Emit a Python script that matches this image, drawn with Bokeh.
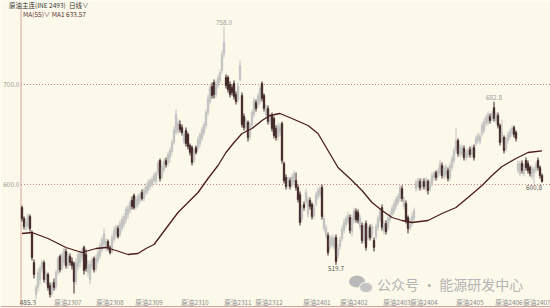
from bokeh.plotting import figure
from bokeh.models import Range1d, ColumnDataSource
from bokeh.embed import file_html
from bokeh.resources import INLINE
from bokeh.core.properties import value

# ---------------- data ----------------
opens = [577,566,558,558,568,552,522,490,497,505,516,522,505,510,499,491,502,498,512,528,
         516,522,533,519,528,523,521,503,518,522,528,537,530,512,505,518,526,516,524,529,
         535,540,536,543,537,533,545,550,556,550,556,560,565,570,574,584,589,578,580,584,
         592,586,592,594,598,600,604,603,612,624,608,615,624,622,627,633,642,652,654,660,
         657,643,654,650,639,637,624,637,636,641,646,652,659,672,683,698,702,690,699,704,
         714,731,707,707,700,697,701,690,685,705,689,668,657,662,648,660,670,682,680,683,
         701,689,670,676,663,669,666,656,648,652,661,621,607,599,604,600,603,604,597,590,
         566,580,583,570,584,580,569,581,588,590,597,556,549,549,538,540,538,547,529,538,
         546,554,560,563,567,553,564,573,572,558,559,544,561,548,557,549,544,548,557,565,
         577,553,561,557,565,570,573,578,582,586,596,578,581,567,557,561,566,596,598,603,
         598,603,596,603,596,601,607,612,609,612,619,608,610,614,607,617,624,634,644,630,
         631,636,627,629,635,630,637,641,644,643,651,654,661,662,668,666,677,664,669,659,
         645,647,636,644,648,651,657,652,614,611,621,611,624,621,617,608,611,615,624,617,
         609]
highs = [579,568,566,571,570,554,525,500,516,519,525,524,514,512,502,503,506,515,528,530,
         532,537,536,532,531,527,523,526,532,534,537,539,535,524,524,527,528,530,535,542,
         548,556,546,545,539,550,558,560,559,564,568,571,578,580,585,588,591,588,591,593,
         595,597,601,605,606,608,612,613,624,626,620,626,627,633,637,645,658,675,666,664,
         660,653,657,652,641,639,635,639,648,652,658,663,675,690,700,702,705,704,710,715,
         734,758,710,709,703,700,704,693,702,724,692,671,666,664,663,675,687,685,692,699,
         703,691,680,679,671,672,668,659,662,661,663,623,610,608,607,611,614,612,600,593,
         579,583,596,588,587,582,580,593,597,599,600,569,560,552,549,550,549,550,540,548,
         559,566,569,573,570,570,577,576,575,570,562,561,564,559,560,561,547,561,569,576,
         580,564,564,569,573,579,584,588,591,600,599,588,584,569,566,572,577,605,607,606,
         606,606,607,605,605,612,614,614,617,625,622,619,620,617,622,629,637,656,646,640,
         640,639,635,637,638,639,640,649,652,651,662,666,670,673,671,674,682.8,673,672,661,
         665,649,648,653,656,659,659,654,624,624,624,621,627,624,619,619,618,623,627,619,
         611]
lows = [563,555,554,555,553,524,506,485.3,493,500,512,502,500,494,487,488,494,495,509,512,
        514,519,516,516,519,515,491,500,514,517,524,510,513,508,500,514,512,513,521,526,
        532,536,533,534,530,531,542,546,546,548,553,557,561,566,571,575,575,575,577,581,
        584,583,589,591,595,597,601,600,609,603,605,612,617,618,622,630,640,650,650,652,
        649,640,638,635,629,619,621,630,633,638,643,649,656,669,680,686,686,687,696,701,
        711,727,696,692,687,689,685,680,682,703,657,654,654,643,645,657,667,673,677,680,
        683,673,667,660,660,653,646,644,644,648,621,601,595,596,595,597,599,594,582,559,
        563,574,580,567,575,565,566,578,585,587,565,553,546,529,535,537,535,519.7,526,535,
        543,551,557,560,551,548,561,562,561,555,541,541,534,545,544,546,533,545,554,562,
        554,550,550,554,562,567,570,575,579,583,583,575,561,551,554,558,563,593,595,594,
        595,595,592,590,593,598,604,604,606,609,606,605,607,603,604,614,621,631,628,627,
        628,624,624,626,627,627,624,638,641,640,648,651,658,659,661,663,663,661,656,639,
        642,631,633,641,645,648,647,643,611,608,611,608,614,611,608,605,600.8,612,614,606,
        602]
closes = [566,558,562,569,556,527,510,497,512,516,522,505,510,497,490,500,497,512,526,515,
          530,535,519,529,522,519,503,522,530,532,534,514,516,520,520,524,515,526,532,539,
          545,551,543,537,532,547,554,557,548,561,565,568,575,577,582,578,577,585,588,590,
          586,594,598,602,604,605,609,611,621,606,617,623,620,630,634,642,655,670,662,655,
          652,650,641,638,632,622,632,632,645,650,655,660,672,686,697,689,690,700,707,712,
          730,742,699,695,690,692,688,683,698,719,660,657,663,647,660,672,684,676,689,696,
          686,676,677,663,668,656,649,647,659,657,624,604,598,605,598,608,611,597,585,562,
          576,577,592,585,578,568,577,590,594,596,568,566,557,532,546,547,546,523,536,545,
          556,562,566,569,554,566,574,565,564,567,544,558,537,556,547,558,537,558,566,573,
          557,561,553,566,570,576,581,585,588,597,586,585,564,556,562,568,574,602,604,597,
          603,598,604,594,602,609,611,607,614,621,609,616,617,606,619,626,634,644,631,637,
          637,627,632,634,630,636,627,646,649,648,659,663,667,670,664,671,666,670,659,642,
          652,634,645,650,653,656,650,646,621,621,614,618,617,614,611,616,615,620,617,609,
          603]

# MA(55) read at selected candles
ma_idx = [0,5,13,22,30,37,42,47,53,58,62,66,72,78,83,88,93,98,102,106,110,115,120,124,129,
          135,143,148,153,158,165,170,175,180,185,190,195,203,210,217,223,230,235,240,247,253,260]
ma_val = [551,552,546,537,532,536,537,534,530,531,536,540,556,572,582,592,606,619,632,642,651,
          656,664,669,671,666,659,651,634,617,604,594,582,574,567,564,562,564,571,577,587,599,
          609,618,626,632,633.57]

# contract labels on the time axis (centre position in candle index)
month_labels = ["原油2307","原油2308","原油2309","原油2310","原油2311","原油2312","原油2401",
                "原油2402","原油2403","原油2404","原油2405","原油2406","原油2407"]
month_pos = [23, 44, 63.5, 86.5, 108, 123.5, 147.5, 166, 187.5, 201, 224, 243.5, 257.5]

y_ticks = [600, 700]

# annotated extremes (candle index, kind)
mark_idx = [7, 101, 157, 236, 256]
mark_kind = ["low", "high", "low", "high", "low"]

# ---------------- styles ----------------
BG = "#fdf9ea"
UP = "#c0c0c0"
DOWN = "#3b2323"
MA_C = "#4a1c1c"
AXIS_C = "#d6a39b"
GRID_C = "#c28383"
FONT = "Noto Sans CJK SC"
PANEL_TOP = 776
PANEL_BOTTOM = 478
X0, X1 = -10.75, 264.25
PANEL_LEFT = -0.5

n = len(closes)
idx = list(range(n))
colors = [UP if c >= o else DOWN for o, c in zip(opens, closes)]
tops = [max(o, c) for o, c in zip(opens, closes)]
bots = [min(o, c) for o, c in zip(opens, closes)]
src = ColumnDataSource(dict(i=idx, h=highs, l=lows, top=tops, bottom=bots, color=colors))

p = figure(width=550, height=308, output_backend="svg", toolbar_location=None,
           x_range=Range1d(X0, X1), y_range=Range1d(476, 784),
           min_border_left=0, min_border_right=0, min_border_top=0, min_border_bottom=0,
           background_fill_color=BG, border_fill_color=BG, outline_line_color=None)

p.xaxis.visible = False
p.yaxis.visible = False
p.xgrid.visible = False
p.ygrid.visible = False

# price scale: dotted reference lines and their labels
p.segment(x0=[PANEL_LEFT] * len(y_ticks), y0=y_ticks, x1=[X1] * len(y_ticks), y1=y_ticks,
          line_color=GRID_C, line_dash="1 2", line_width=1)
p.text([PANEL_LEFT - 0.8] * len(y_ticks), y_ticks, text=[f"{t:.1f}" for t in y_ticks],
       text_font=value(FONT), text_font_size="6.5px", text_color="#9a9a9a",
       text_align="right", text_baseline="middle")

# panel border lines (left edge below the header, bottom edge)
p.segment(x0=[PANEL_LEFT], y0=[PANEL_BOTTOM], x1=[PANEL_LEFT], y1=[PANEL_TOP],
          line_color=AXIS_C, line_width=1)
p.segment(x0=[X0], y0=[PANEL_BOTTOM], x1=[X1], y1=[PANEL_BOTTOM], line_color=AXIS_C, line_width=1)

# candles
p.segment(x0="i", y0="l", x1="i", y1="h", line_color="color", line_width=1, source=src)
p.vbar(x="i", width=0.8, top="top", bottom="bottom", fill_color="color",
       line_color="color", line_width=0.5, source=src)

# MA line
p.line(ma_idx, ma_val, line_color=MA_C, line_width=1.3)

# extreme labels
hi_x, hi_y, hi_t = [], [], []
lo_x, lo_y, lo_t = [], [], []
lor_x, lor_y, lor_t = [], [], []
for k, kind in zip(mark_idx, mark_kind):
    if kind == "high":
        hi_x.append(k); hi_y.append(highs[k] + 1.5); hi_t.append(f"{highs[k]:.1f}")
    elif k < 10:
        lor_x.append(k); lor_y.append(lows[k] - 1.0); lor_t.append(f"{lows[k]:.1f}")
    else:
        lo_x.append(k); lo_y.append(lows[k] - 1.5); lo_t.append(f"{lows[k]:.1f}")
p.text(hi_x, hi_y, text=hi_t, text_font=value(FONT), text_font_size="6.5px",
       text_color="#9a9a9a", text_align="center", text_baseline="bottom")
p.text(lo_x, lo_y, text=lo_t, text_font=value(FONT), text_font_size="6.5px",
       text_color="#5a5a5a", text_align="center", text_baseline="top")
p.text(lor_x, lor_y, text=lor_t, text_font=value(FONT), text_font_size="6.5px",
       text_color="#5a5a5a", text_align="right", text_baseline="top")

# time-axis labels
p.text(month_pos, [483] * len(month_pos), text=month_labels, text_font=value(FONT),
       text_font_size="6.5px", text_color="#8c8c8c", text_align="center",
       text_baseline="middle")

# watermark
p.ellipse(x=[167.5], y=[503], width=8, height=12, fill_color="#b9b9b9", line_color=None)
p.ellipse(x=[172], y=[497], width=6.5, height=10.5, fill_color="#c4c4c4", line_color=BG, line_width=1)
p.text([177.5], [501], text=["公众号 · 能源研发中心"], text_font=value(FONT),
       text_font_size="14px", text_color="#b4b4b4", text_align="left", text_baseline="middle")

# header and legend
p.text([-6.5], [780], text=["原油主连(INE 2493)"], text_font=value(FONT),
       text_font_size="6.5px", text_color="#333333", text_baseline="middle")
p.text([23.5], [780], text=["日线∨"], text_font=value(FONT),
       text_font_size="6.5px", text_color="#333333", text_baseline="middle")
p.text([0.5], [771], text=[f"MA(55)∨  MA1 {ma_val[-1]:.2f}"], text_font=value(FONT),
       text_font_size="6.5px", text_color="#5a3030", text_baseline="middle")

open("out.html", "w").write(file_html(p, INLINE))
